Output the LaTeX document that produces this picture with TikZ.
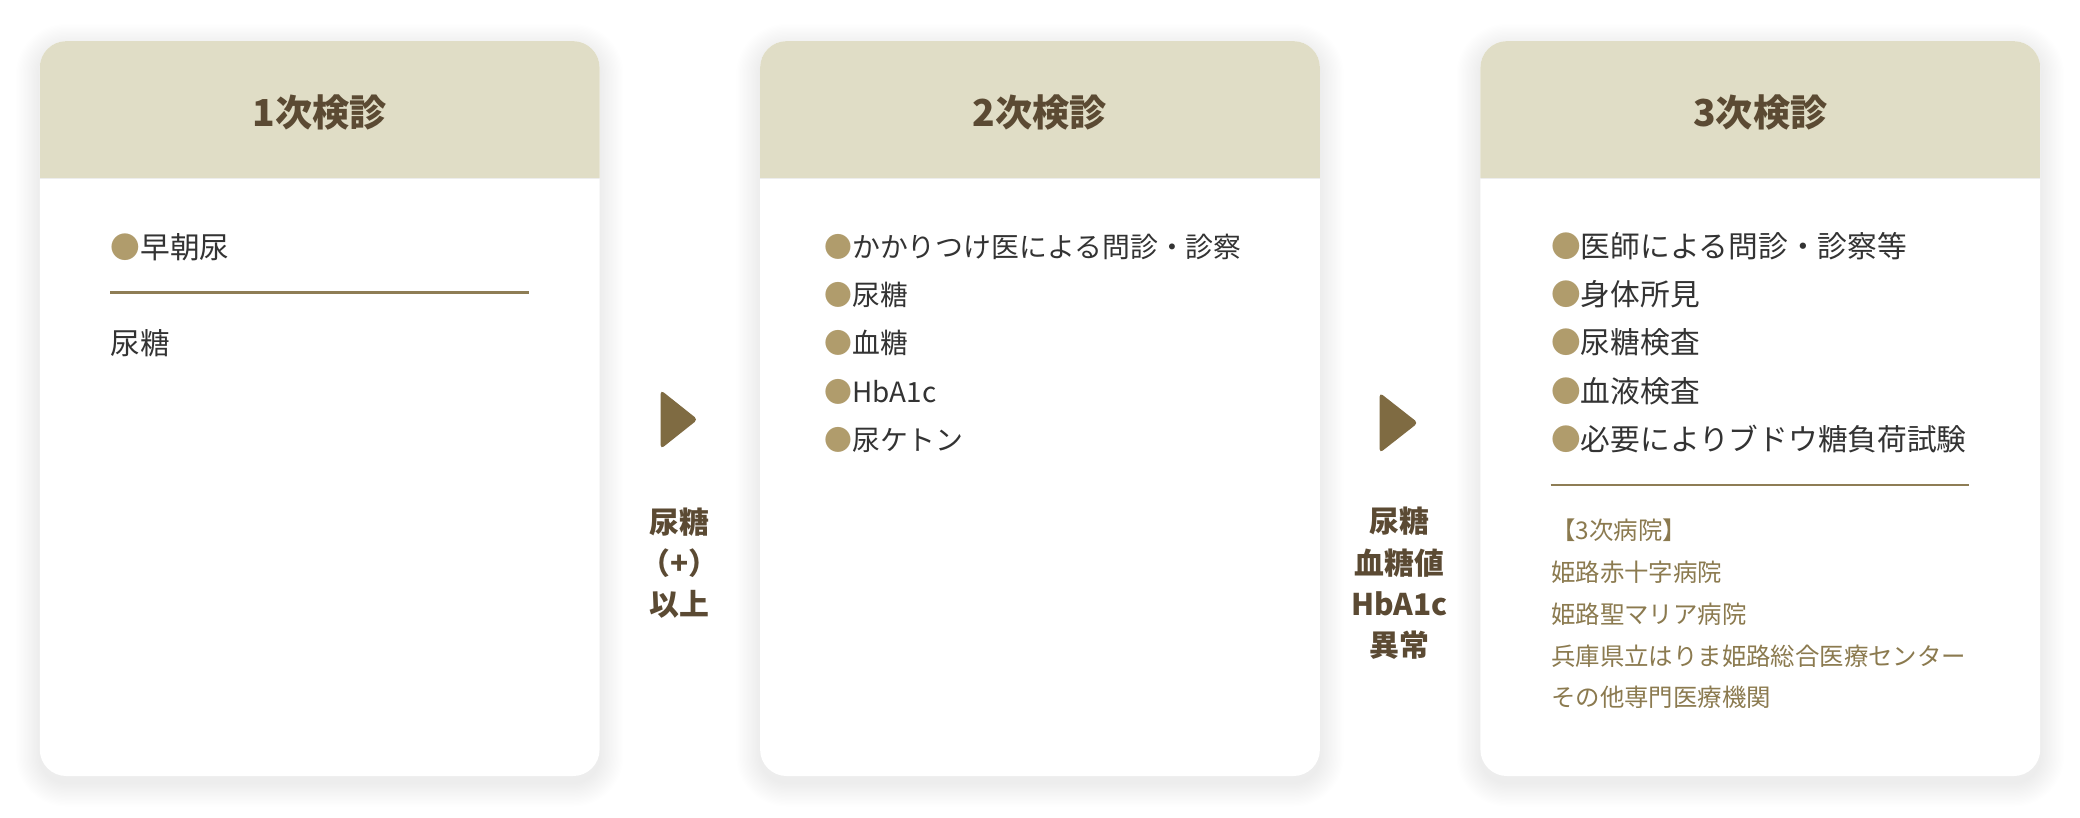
\documentclass[tikz,border=0pt]{standalone}
\usepackage{fontspec}
\setmainfont{Noto Sans CJK JP}
\usetikzlibrary{calc}
\definecolor{hdr}{HTML}{E0DDC6}
\definecolor{ttl}{HTML}{5B4A33}
\definecolor{itm}{HTML}{333333}
\definecolor{bulc}{HTML}{B09C6C}
\definecolor{sepc}{HTML}{8E7D55}
\definecolor{hosp}{HTML}{8B7A4F}
\definecolor{arrc}{HTML}{7F6B42}
\newcommand{\bul}{{\color{bulc}●}}
\tikzset{
  title/.style={font=\fontsize{14pt}{16pt}\selectfont\bfseries, text=ttl, inner sep=0pt, anchor=center},
  item/.style={font=\fontsize{11.2pt}{13pt}\selectfont, text=itm, inner sep=0pt, anchor=west, text height=0.8em, text depth=0.12em},
  itemb/.style={item, font=\fontsize{10.5pt}{13pt}\selectfont},
  hospital/.style={font=\fontsize{9.2pt}{11pt}\selectfont, text=hosp, inner sep=0pt, anchor=west, text height=0.8em, text depth=0.12em},
  lbl/.style={font=\fontsize{11.25pt}{15.5pt}\selectfont\bfseries, text=ttl, inner sep=0pt, align=center, anchor=center},
  sepline/.style={draw=sepc, line width=0.9pt},
  tri/.style={fill=arrc, rounded corners=1.5pt},
}
\begin{document}
\begin{tikzpicture}[x=0.5pt,y=-0.5pt]
\useasboundingbox (0,0) rectangle (1568,616);
\fill[white] (0,0) rectangle (1568,616);
% soft shadows
\foreach \c in {30,573,1116}{
  \foreach \i in {1,...,18}{
    \fill[black,opacity=0.003,rounded corners={10pt+\i*0.5pt}] (\c-\i,31-\i+5) rectangle (\c+422+\i,585+\i+5);
  }
}
% cards
\foreach \c/\n in {30/c1,573/c2,1116/c3}{
  \fill[white,rounded corners=10pt] (\c,31) rectangle (\c+422,585);
  \begin{scope}
    \clip[rounded corners=10pt] (\c,31) rectangle (\c+422,585);
    \fill[hdr] (\c,31) rectangle (\c+422,134);
    \draw[white!93!black, line width=0.6pt] (\c,134.5) -- (\c+422,134.5);
  \end{scope}
}
% titles
\node[title] (t1) at (241,85) {1次検診};
\node[title] (t2) at (784,85) {2次検診};
\node[title] (t3) at (1327,85) {3次検診};
% card 1
\node[item] (a1) at (83,188) {\bul 早朝尿};
\coordinate (s1a) at (83,220.5);
\coordinate (s1b) at (399,220.5);
\draw[sepline] (s1a) -- (s1b);
\node[item] (a2) at (83,260.5) {尿糖};
% card 2
\node[itemb] (b1) at (621,187) {\bul かかりつけ医による問診・診察};
\node[itemb] (b2) at (621,223.5) {\bul 尿糖};
\node[itemb] (b3) at (621,260) {\bul 血糖};
\node[itemb] (b4) at (621,296.5) {\bul HbA1c};
\node[itemb] (b5) at (621,333) {\bul 尿ケトン};
% card 3
\node[item] (d1) at (1169,187) {\bul 医師による問診・診察等};
\node[item] (d2) at (1169,223.5) {\bul 身体所見};
\node[item] (d3) at (1169,260) {\bul 尿糖検査};
\node[item] (d4) at (1169,296.5) {\bul 血液検査};
\node[item] (d5) at (1169,333) {\bul 必要によりブドウ糖負荷試験};
\coordinate (s3a) at (1169,365.5);
\coordinate (s3b) at (1484,365.5);
\draw[sepline] (s3a) -- (s3b);
\node[hospital] (h0) at (1169,400) {【3次病院】};
\node[hospital] (h1) at (1169,431.5) {姫路赤十字病院};
\node[hospital] (h2) at (1169,463) {姫路聖マリア病院};
\node[hospital] (h3) at (1169,494.5) {兵庫県立はりま姫路総合医療センター};
\node[hospital] (h4) at (1169,526) {その他専門医療機関};
% arrows
\fill[tri] (498,294) -- (526,316.25) -- (498,338.5) -- cycle;
\fill[tri] (1040,296) -- (1069,318.75) -- (1040,341.5) -- cycle;
\node[lbl] (l1) at (512,424.8) {尿糖\\（+）\\以上};
\node[lbl] (l2) at (1055,439.7) {尿糖\\血糖値\\HbA1c\\異常};
\end{tikzpicture}
\end{document}
